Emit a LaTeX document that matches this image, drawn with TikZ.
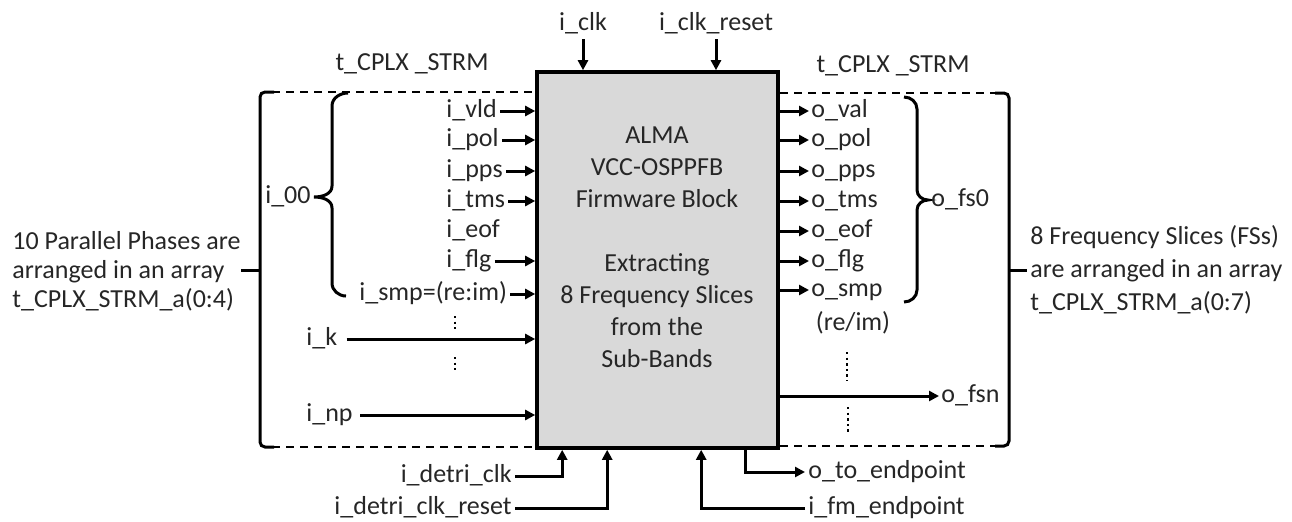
\documentclass[tikz,border=0pt]{standalone}
\usepackage{fontspec}
\setmainfont{Carlito}
\usetikzlibrary{arrows.meta,positioning,calc}
\definecolor{blkgray}{HTML}{D9D9D9}
\definecolor{ink}{HTML}{262626}
\tikzset{
  fwblock/.style={draw=black,line width=1.8pt,fill=blkgray,minimum width=120.5pt,minimum height=188pt},
  sig/.style={text=ink,inner sep=1.5pt,font=\fontsize{13}{16}\selectfont},
  lbl/.style={sig,text height=9pt,text depth=3pt},
  arr/.style={-{Triangle[length=5pt,width=5pt]},line width=1.5pt},
  grp/.style={draw,line width=1.5pt,rounded corners=2.5pt},
  crly/.style={draw,line width=1.5pt},
  dashline/.style={line width=1pt,dash pattern=on 4pt off 3pt},
  dotline/.style={line width=1.3pt,dash pattern=on 1.2pt off 1.6pt}
}

\begin{document}
\begin{tikzpicture}[x=0.5pt,y=-0.5pt]
    \useasboundingbox (0,0) rectangle (1292,521);
    \node[fwblock] (blk) at (657.5,260) {};
    \node[sig,align=center] (blktxt) at (657,247) {ALMA\\VCC-OSPPFB\\Firmware Block\\[16pt]Extracting\\8 Frequency Slices\\from the\\Sub-Bands};

    \node[lbl] (iclk) at (583,24) {i\_clk};
    \node[lbl] (iclkrst) at (716,24) {i\_clk\_reset};
    \draw[arr] (iclk.south) -- (iclk.south |- blk.north);
    \draw[arr] (iclkrst.south) -- (iclkrst.south |- blk.north);

    \node[lbl] (lstrm) at (412,64) {t\_CPLX \_STRM};
    \node[lbl] (rstrm) at (893,66) {t\_CPLX \_STRM};

    \node[lbl,anchor=west] (ivld) at (443,111) {i\_vld};
    \node[lbl,anchor=west] (ipol) at (443,140) {i\_pol};
    \node[lbl,anchor=west] (ipps) at (443,171) {i\_pps};
    \node[lbl,anchor=west] (itms) at (443,201) {i\_tms};
    \node[lbl,anchor=west] (ieof) at (443,231) {i\_eof};
    \node[lbl,anchor=west] (iflg) at (443,261) {i\_flg};
    \node[lbl,anchor=west] (ismp) at (356,294) {i\_smp=(re:im)};
    \node[lbl,anchor=west] (ik) at (303,339) {i\_k};
    \node[lbl,anchor=west] (inp) at (303,415) {i\_np};
    \draw[arr] (ivld.east) -- (ivld.east -| blk.west);
    \draw[arr] (ipol.east) -- (ipol.east -| blk.west);
    \draw[arr] (ipps.east) -- (ipps.east -| blk.west);
    \draw[arr] (itms.east) -- (itms.east -| blk.west);
    \draw[arr] (iflg.east) -- (iflg.east -| blk.west);
    \draw[arr] (ismp.east) -- (ismp.east -| blk.west);
    \draw[arr,shorten <=3pt] (ik.east) -- (ik.east -| blk.west);
    \draw[arr,shorten <=2pt] (inp.east) -- (inp.east -| blk.west);
    \draw[dotline] (455,316) -- (455,329);
    \draw[dotline] (455,357) -- (455,370);

    \draw[crly] (348,93) to[out=180,in=90] (332,106) -- (332,186) to[out=-90,in=0] (314,197)
      to[out=0,in=90] (332,208) -- (332,283) to[out=-90,in=180] (346,296);
    \node[lbl,anchor=east] (i00) at (314,197) {i\_00};
    \draw[dashline] (272,92) -- (536,92);
    \draw[dashline] (272,447) -- (536,447);
    \draw[grp] (274,92) -- (260,92) -- (260,447) -- (274,447);
    \draw[line width=1.5pt] (260,270) -- (241,270);
    \node[sig,anchor=west,align=left,font=\fontsize{13}{14.5}\selectfont] (lhs) at (9,271) {10 Parallel Phases are\\arranged in an array\\t\_CPLX\_STRM\_a(0:4)};

    \node[lbl,anchor=west,inner sep=1pt] (oval) at (809,111) {o\_val};
    \node[lbl,anchor=west,inner sep=1pt] (opol) at (809,140) {o\_pol};
    \node[lbl,anchor=west,inner sep=1pt] (opps) at (809,171) {o\_pps};
    \node[lbl,anchor=west,inner sep=1pt] (otms) at (809,201) {o\_tms};
    \node[lbl,anchor=west,inner sep=1pt] (oeof) at (809,231) {o\_eof};
    \node[lbl,anchor=west,inner sep=1pt] (oflg) at (809,261) {o\_flg};
    \node[lbl,anchor=west,inner sep=1pt] (osmp) at (809,290) {o\_smp};
    \node[sig] (oreim) at (853,323) {(re/im)};
    \node[lbl,anchor=west,inner sep=1pt] (ofsn) at (939,396) {o\_fsn};
    \draw[arr] (oval.west -| blk.east) -- (oval.west);
    \draw[arr] (opol.west -| blk.east) -- (opol.west);
    \draw[arr] (opps.west -| blk.east) -- (opps.west);
    \draw[arr] (otms.west -| blk.east) -- (otms.west);
    \draw[arr] (oeof.west -| blk.east) -- (oeof.west);
    \draw[arr] (oflg.west -| blk.east) -- (oflg.west);
    \draw[arr] (osmp.west -| blk.east) -- (osmp.west);
    \draw[arr] (ofsn.west -| blk.east) -- (ofsn.west);
    \draw[dotline] (847,352) -- (847,381);
    \draw[dotline] (848,407) -- (848,434);

    \draw[crly] (904,97) to[out=0,in=90] (917,109) -- (917,190) to[out=-90,in=180] (928,200)
      to[out=180,in=90] (917,210) -- (917,290) to[out=-90,in=0] (904,302);
    \node[lbl,anchor=west] (ofs0) at (928,200) {o\_fs0};
    \draw[dashline] (780,93) -- (996,93);
    \draw[dashline] (780,446) -- (996,446);
    \draw[grp] (995,93) -- (1009,93) -- (1009,446) -- (995,446);
    \draw[line width=1.5pt] (1009,270) -- (1027,270);
    \node[sig,anchor=west,align=left,font=\fontsize{13}{16.5}\selectfont] (rhs) at (1027,270) {8 Frequency Slices (FSs)\\are arranged in an array\\t\_CPLX\_STRM\_a(0:7)};

    \node[lbl,anchor=east] (idclk) at (515,476) {i\_detri\_clk};
    \node[lbl,anchor=east] (idclkrst) at (515,508) {i\_detri\_clk\_reset};
    \node[lbl,anchor=west] (ote) at (805,472) {o\_to\_endpoint};
    \node[lbl,anchor=west] (ifm) at (805,508) {i\_fm\_endpoint};
    \draw[arr] (idclk.east) -| ($(blk.south west)+(27,0)$);
    \draw[arr] (idclkrst.east) -| ($(blk.south west)+(72,0)$);
    \draw[arr] (ifm.west) -| ($(blk.south west)+(166,0)$);
    \draw[arr] ($(blk.south west)+(210,0)$) |- (ote.west);
  \end{tikzpicture}
\end{document}
